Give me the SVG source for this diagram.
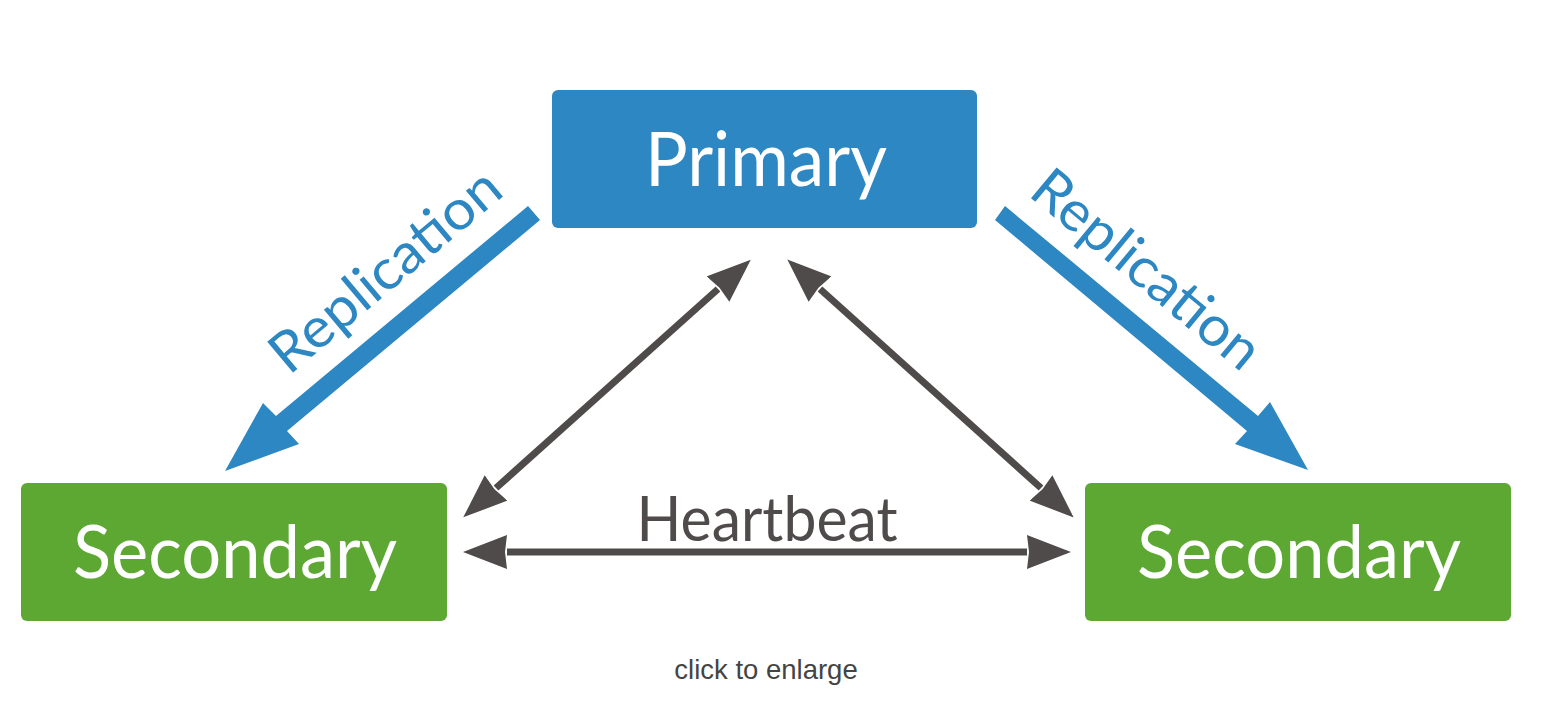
<svg xmlns="http://www.w3.org/2000/svg" width="1559" height="703" viewBox="0 0 1559 703">
  <style>
    .label { font-family: Lato, "Open Sans", "Liberation Sans", sans-serif; fill: #ffffff; }
    .primary { fill: #2C87C2; }
    .secondary { fill: #5DA832; }
    .rep { fill: #2C87C2; }
    .repText { font-family: Lato, "Open Sans", "Liberation Sans", sans-serif; fill: #2C87C2; font-size: 56px; }
    .hb { stroke: #4F4B4B; stroke-width: 7; fill: none; marker-start: url(#hbHead); marker-end: url(#hbHead); }
    .hbText { font-family: Lato, "Open Sans", "Liberation Sans", sans-serif; fill: #4F4B4B; font-size: 61px; }
    .caption { font-family: "Liberation Sans", Arial, sans-serif; fill: #444444; font-size: 27.5px; }
  </style>
  <defs>
    <marker id="hbHead" markerUnits="userSpaceOnUse" viewBox="0 0 44 34" refX="0" refY="17" markerWidth="44" markerHeight="34" orient="auto-start-reverse">
      <path d="M0,0 L44,17 L0,34 L2,17 Z" fill="#4F4B4B"/>
    </marker>
  </defs>
  <rect width="1559" height="703" fill="#ffffff"/>

  <g id="connectors">
    <g id="replication-left">
      <polygon class="rep" points="528,206 276,416 263,403 225,471 299,444 287,431 540,220"/>
      <text class="repText" transform="translate(289,376) rotate(-40)" textLength="283" lengthAdjust="spacingAndGlyphs">Replication</text>
    </g>
    <g id="replication-right">
      <polygon class="rep" points="1005,206 1258,416 1270,402 1308,470 1235,444 1247,431 995,220"/>
      <text class="repText" transform="translate(1027,195) rotate(39.6)" textLength="279" lengthAdjust="spacingAndGlyphs">Replication</text>
    </g>
    <g id="heartbeat">
      <line class="hb" x1="496" y1="488" x2="718" y2="289"/>
      <line class="hb" x1="820" y1="289" x2="1041" y2="488"/>
      <line class="hb" x1="507" y1="552" x2="1027" y2="552"/>
      <text class="hbText" x="767" y="541" text-anchor="middle" textLength="261" lengthAdjust="spacingAndGlyphs">Heartbeat</text>
    </g>
  </g>

  <g id="node-primary">
    <rect class="primary" x="552" y="90" width="425" height="138" rx="6"/>
    <text class="label" x="766" y="186" font-size="76" text-anchor="middle" textLength="242" lengthAdjust="spacingAndGlyphs">Primary</text>
  </g>
  <g id="node-secondary-left">
    <rect class="secondary" x="21" y="483" width="426" height="138" rx="6"/>
    <text class="label" x="235" y="578" font-size="74" text-anchor="middle" textLength="324" lengthAdjust="spacingAndGlyphs">Secondary</text>
  </g>
  <g id="node-secondary-right">
    <rect class="secondary" x="1085" y="483" width="426" height="138" rx="6"/>
    <text class="label" x="1299" y="578" font-size="74" text-anchor="middle" textLength="324" lengthAdjust="spacingAndGlyphs">Secondary</text>
  </g>

  <text class="caption" x="766" y="679" text-anchor="middle">click to enlarge</text>
</svg>
